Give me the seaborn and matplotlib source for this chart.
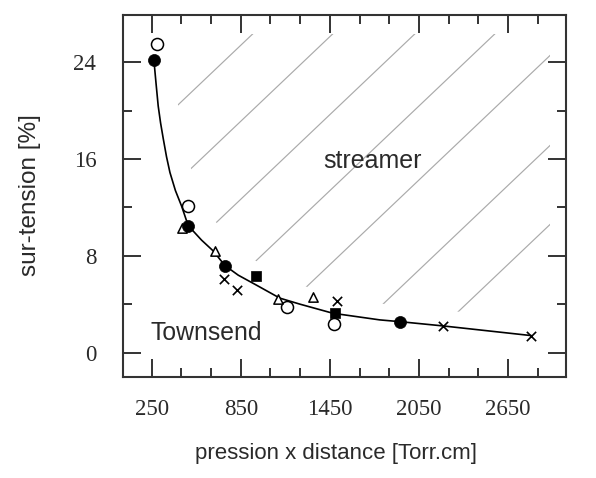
import numpy as np
import pandas as pd
import matplotlib
matplotlib.use("Agg")
import matplotlib.pyplot as plt
import seaborn as sns
from matplotlib.ticker import MultipleLocator
from matplotlib.lines import Line2D
from matplotlib.patches import Polygon
from matplotlib.transforms import IdentityTransform

# ---------------- data ----------------
curve_x = [265, 280, 294, 310, 328, 350, 373, 410, 452, 496, 586, 665, 743, 833, 952, 1113, 1249, 1470, 1786, 1925, 2213, 2807]
curve_y = [24.2, 22.2, 20.4, 19.0, 17.7, 16.2, 14.9, 13.4, 12.1, 10.5, 9.3, 8.4, 7.2, 6.4, 5.6, 4.5, 4.0, 3.25, 2.7, 2.55, 2.2, 1.4]

open_circle_x = [288, 496, 1163, 1477]
open_circle_y = [25.5, 12.1, 3.8, 2.4]

filled_circle_x = [265, 496, 743, 1925]
filled_circle_y = [24.2, 10.5, 7.2, 2.5]

triangle_x = [452, 676, 1102, 1334]
triangle_y = [10.3, 8.4, 4.4, 4.6]

cross_x = [737, 826, 1495, 2213, 2807]
cross_y = [6.1, 5.2, 4.25, 2.2, 1.4]

square_x = [952, 1484]
square_y = [6.3, 3.3]

x_ticks = [250, 850, 1450, 2050, 2650]
y_ticks = [0, 8, 16, 24]

x_label = "pression x distance [Torr.cm]"
y_label = "sur-tension [%]"
region_labels = ["streamer", "Townsend"]

# ---------------- style ----------------
sns.set_style("ticks")
plt.rcParams["font.family"] = ["Liberation Sans", "DejaVu Sans"]
DARK = "#2a2a2a"

W, H = 596, 478
fig = plt.figure(figsize=(W / 100, H / 100), dpi=100)
ax = fig.add_axes([122.7 / W, 101.3 / H, 443.3 / W, 362 / H])
ax.set_xlim(55, 3040)
ax.set_ylim(-2, 27.95)

# curve
sns.lineplot(x=curve_x, y=curve_y, ax=ax, color="black", lw=1.2,
             estimator=None, sort=False, zorder=3)

# markers
sns.scatterplot(x=open_circle_x, y=open_circle_y, ax=ax, marker="o", s=75,
                facecolor="white", edgecolor="black", linewidth=1.1, zorder=4)
sns.scatterplot(x=filled_circle_x, y=filled_circle_y, ax=ax, marker="o", s=75,
                color="black", edgecolor="black", linewidth=0.5, zorder=5)
sns.scatterplot(x=triangle_x, y=triangle_y, ax=ax, marker="^", s=45,
                facecolor="white", edgecolor="black", linewidth=1.1, zorder=4)
sns.scatterplot(x=cross_x, y=cross_y, ax=ax, marker="x", s=45,
                color="black", linewidth=1.2, zorder=4)
sns.scatterplot(x=square_x, y=square_y, ax=ax, marker="s", s=60,
                color="black", edgecolor="black", linewidth=0.5, zorder=5)

# ---------------- hatched "streamer" region ----------------
# clip region: curve shifted up/right, bounded at top and right (pixels)
shift_dx, shift_dy = 18, 14
top_img_y, right_img_x = 34, 550
pts = ax.transData.transform(np.column_stack([curve_x, curve_y]))
pts = pts + np.array([shift_dx, shift_dy])
poly = list(map(tuple, pts))
poly.append((right_img_x, pts[-1, 1]))
poly.append((right_img_x, H - top_img_y))
poly.append((pts[0, 0], H - top_img_y))
clip = Polygon(poly, closed=True, transform=IdentityTransform())

hatch_intercepts_img = [274, 350, 428, 504, 578, 668, 747]
hatch_slope = 0.95
for c in hatch_intercepts_img:
    xs = np.array([100.0, 600.0])
    ys_img = c - hatch_slope * xs
    ln = Line2D(xs, H - ys_img, color="#aaaaaa", lw=0.85,
                transform=IdentityTransform(), zorder=1)
    ax.add_artist(ln)
    ln.set_clip_path(clip)

# region labels
ax.text(0.4525, 0.5757, region_labels[0], transform=ax.transAxes,
        fontsize=18, color=DARK, ha="left", va="baseline")
ax.text(0.0632, 0.1014, region_labels[1], transform=ax.transAxes,
        fontsize=17.8, color=DARK, ha="left", va="baseline")

# ---------------- axes / ticks ----------------
ax.xaxis.set_major_locator(MultipleLocator(600, offset=250))
ax.xaxis.set_minor_locator(MultipleLocator(200, offset=50))
ax.yaxis.set_major_locator(MultipleLocator(8))
ax.yaxis.set_minor_locator(MultipleLocator(4))
ax.set_xticks(x_ticks)
ax.set_yticks(y_ticks)

ax.tick_params(which="both", direction="in", top=True, right=True,
               color="#333333", width=1.4)
ax.tick_params(which="major", length=13)
ax.tick_params(which="minor", length=6.5)
ax.tick_params(axis="x", which="major", pad=16)
ax.tick_params(axis="y", which="major", pad=19)
for lab in ax.get_xticklabels() + ax.get_yticklabels():
    lab.set_fontfamily(["Liberation Serif", "DejaVu Serif"])
    lab.set_fontsize(16.5)
    lab.set_color(DARK)

for sp in ax.spines.values():
    sp.set_linewidth(1.5)
    sp.set_color("#333333")

ax.set_xlabel(x_label, fontsize=16, color=DARK)
ax.set_ylabel(y_label, fontsize=17.5, color=DARK)
ax.xaxis.set_label_coords(0.481, -0.211)
ax.xaxis.label.set_va("center")
ax.yaxis.set_label_coords(-0.209, 0.502)
ax.yaxis.label.set_va("center")

fig.savefig("out.png", dpi=100)
